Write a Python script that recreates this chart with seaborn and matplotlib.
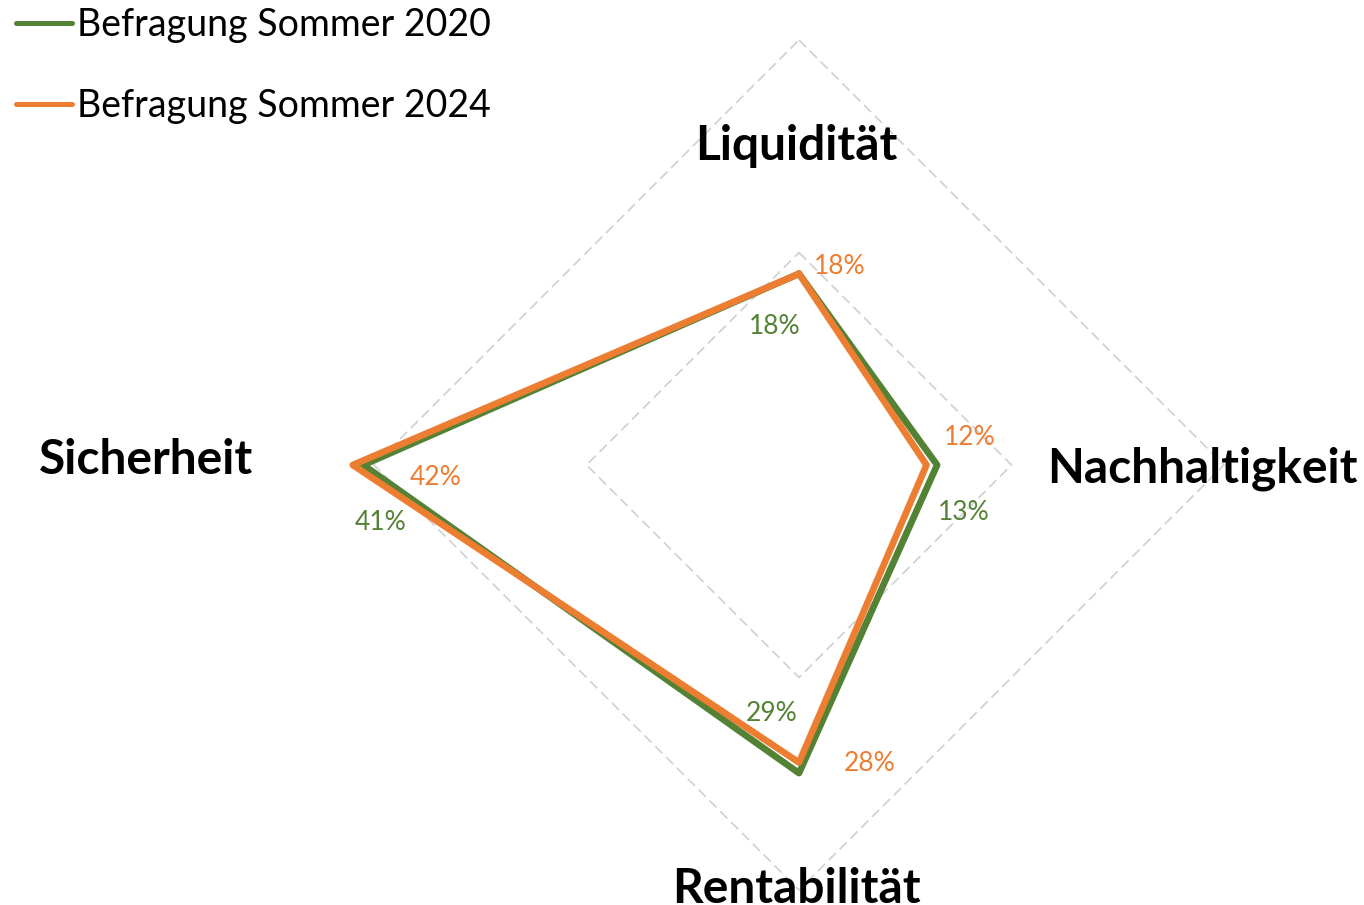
"""Radarchart: Prioritäten der Geldanlage, Befragung 2020 vs. 2024"""

import numpy as np
import pandas as pd
import matplotlib.pyplot as plt
import seaborn as sns

# %% Data

categories = ["Liquidität", "Nachhaltigkeit", "Rentabilität", "Sicherheit"]
series_names = ["Befragung Sommer 2020", "Befragung Sommer 2024"]
values_2020 = [0.18, 0.13, 0.29, 0.41]
values_2024 = [0.18, 0.12, 0.28, 0.42]
grid_levels = [0.2, 0.4]

colors = {"Befragung Sommer 2020": "#548235", "Befragung Sommer 2024": "#ED7D31"}

angles = np.linspace(0, 2 * np.pi, len(categories), endpoint=False)

# geschlossenes Polygon: ersten Punkt am Ende wiederholen
rows = []
for name, vals in zip(series_names, [values_2020, values_2024]):
    for ang, v in zip(list(angles) + [2 * np.pi], vals + vals[:1]):
        rows.append({"series": name, "angle": ang, "value": v})
data = pd.DataFrame(rows)

# %% Plot

sns.set_theme(style="white")
plt.rcParams["font.family"] = ["Lato", "DejaVu Sans"]

W, H = 1364, 905
fig = plt.figure(figsize=(W / 100, H / 100), dpi=100)
cx, cy, R = 799, 465, 425
ax = fig.add_axes([(cx - R) / W, (H - cy - R) / H, 2 * R / W, 2 * R / H], projection="polar")
ax.set_theta_zero_location("N")
ax.set_theta_direction(-1)
ax.set_ylim(0, max(grid_levels))
ax.grid(False)
ax.set_xticks([])
ax.set_yticks([])
ax.spines["polar"].set_visible(False)
ax.patch.set_alpha(0)

# rautenförmiges Gitter
for lvl in grid_levels:
    ax.plot(list(angles) + [2 * np.pi], [lvl] * (len(angles) + 1),
            color="#D0D0D0", lw=1.2, dashes=(6, 3.2), clip_on=False, zorder=1)

sns.lineplot(data=data, x="angle", y="value", hue="series", hue_order=series_names,
             palette=colors, sort=False, estimator=None, linewidth=4.8, ax=ax, zorder=3)
for line in ax.get_lines()[len(grid_levels):]:
    line.set_clip_on(False)
    line.set_solid_joinstyle("round")
    line.set_solid_capstyle("round")

handles, labels = ax.get_legend_handles_labels()
ax.get_legend().remove()
leg = fig.legend(handles, labels, loc="upper left", bbox_to_anchor=(16 / W, 1 - 7 / H),
                 frameon=False, fontsize=27, handlelength=1.5, handletextpad=0.13,
                 labelspacing=1.2, borderpad=0, borderaxespad=0, labelcolor="black")
for h in leg.legend_handles:
    h.set_linewidth(3.6)
    h.set_solid_capstyle("round")

# Achsenbeschriftungen (Offset in Pixeln zum äußeren Gitterpunkt)
cat_offsets = [(-3, -120), (-22, -17), (-3, -13), (-228, -9)]
for ang, cat, (dx, dy) in zip(angles, categories, cat_offsets):
    ax.annotate(cat, xy=(ang, max(grid_levels)), xytext=(dx, dy), textcoords="offset pixels",
                ha="center", va="baseline", fontsize=34.5, fontweight="bold", color="black",
                annotation_clip=False)

# Datenbeschriftungen
label_offsets = {
    "Befragung Sommer 2020": [(-24, -53), (27, -48), (-27, 60), (17, -57)],
    "Befragung Sommer 2024": [(41, 7), (43, 28), (71, -1), (83, -12)],
}
for name, vals in zip(series_names, [values_2020, values_2024]):
    for ang, v, (dx, dy) in zip(angles, vals, label_offsets[name]):
        ax.annotate(f"{v:.0%}", xy=(ang, v), xytext=(dx, dy), textcoords="offset pixels",
                    ha="center", va="center", fontsize=19, color=colors[name],
                    annotation_clip=False)

fig.savefig("out.png", dpi=100)
